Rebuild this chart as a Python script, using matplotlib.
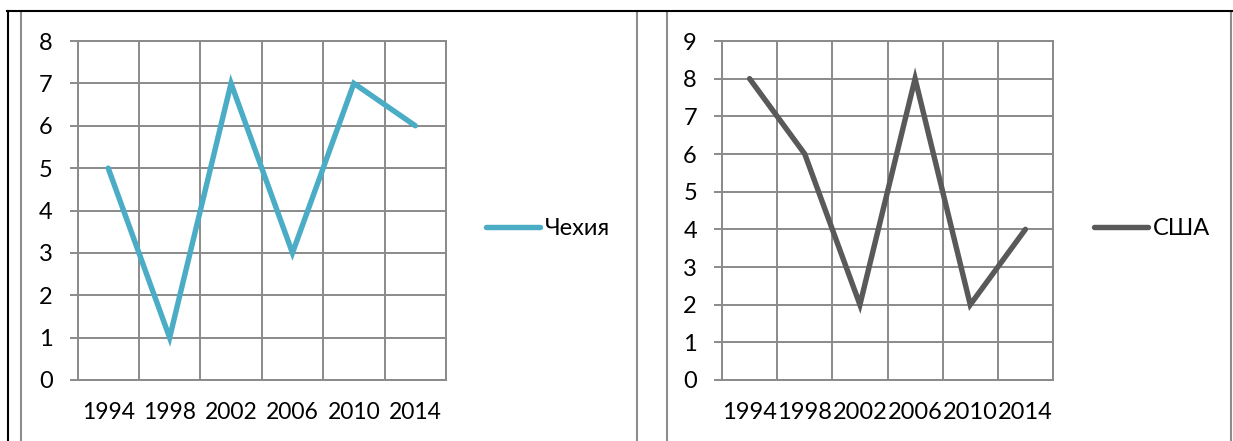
import matplotlib.pyplot as plt
from matplotlib.lines import Line2D
import numpy as np

# Data
years = ['1994', '1998', '2002', '2006', '2010', '2014']
czech = [5, 1, 7, 3, 7, 6]
usa = [8, 6, 2, 8, 2, 4]

plt.rcParams['font.family'] = ['Lato', 'DejaVu Sans']

W, H = 1233, 441
fig = plt.figure(figsize=(W / 100, H / 100), dpi=100)

grid_col = '#8a8a8a'


def px(x0, y0, x1, y1):
    # pixel rectangle -> figure fraction [left, bottom, width, height]
    return [x0 / W, 1 - y1 / H, (x1 - x0) / W, (y1 - y0) / H]


def make_panel(rect, values, ymax, color, label, legend_x, xfont):
    ax = fig.add_axes(rect)
    x = np.arange(len(years))
    ax.plot(x, values, color=color, lw=3.9, solid_capstyle='round',
            solid_joinstyle='miter', label=label, zorder=3)
    ax.set_xlim(-0.5, len(years) - 0.5)
    ax.set_ylim(0, ymax)
    ax.set_yticks(range(ymax + 1))
    ax.set_xticks(x)
    ax.set_xticklabels(years)
    ax.set_xticks(np.arange(-0.5, len(years)), minor=True)
    ax.grid(True, which='minor', axis='x', color=grid_col, lw=1.4)
    ax.grid(True, which='major', axis='y', color=grid_col, lw=1.4)
    ax.tick_params(axis='x', which='both', length=0, pad=16, labelsize=xfont)
    ax.tick_params(axis='y', length=6, width=1.4, color=grid_col, pad=12,
                   labelsize=17)
    for s in ax.spines.values():
        s.set_color(grid_col)
        s.set_linewidth(1.4)
    ax.set_axisbelow(True)
    ax.legend(loc='center left', bbox_to_anchor=(legend_x / W, 1 - 229 / H),
              bbox_transform=fig.transFigure, frameon=False, fontsize=17,
              handlelength=2.3, handletextpad=0.2, borderpad=0,
              borderaxespad=0)
    return ax


make_panel(px(77.5, 41, 446, 380), czech, 8, '#4bacc6', 'Чехия', 486, 16.5)
make_panel(px(722, 41, 1053, 380), usa, 9, '#595959', 'США', 1094, 17)


def fline(xs, ys, color, lw):
    fig.add_artist(Line2D([v / W for v in xs], [1 - v / H for v in ys],
                          color=color, lw=lw, transform=fig.transFigure))


# chart frames and table border
for xv in (21, 637, 667, 1231):
    fline([xv, xv], [12, H], '#8c8c8c', 1.5)
fline([7, W], [11, 11], 'black', 1.5)
fline([8, 8], [11, H], 'black', 1.5)

plt.savefig('out.png', dpi=100)
